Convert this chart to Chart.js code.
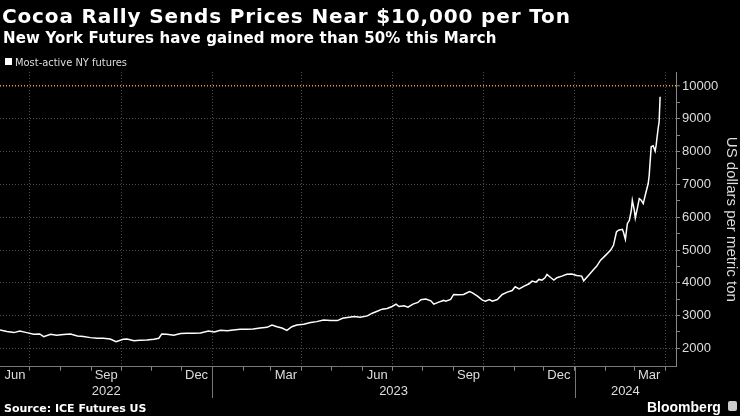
<!DOCTYPE html>
<html>
<head>
<meta charset="utf-8">
<script src="https://cdn.jsdelivr.net/npm/chart.js@4.4.1/dist/chart.umd.min.js"></script>
<style>
  body { margin: 0; background: #000; }
  #wrap { position: relative; width: 740px; height: 416px; background: #000; overflow: hidden; }
  #chart { position: absolute; left: 0; top: 0; }
  .txt { position: absolute; white-space: nowrap; line-height: 1; }
  #title { left: 2px; top: 4px; font: bold 20px "DejaVu Sans"; letter-spacing: 0.85px; color: #fff; }
  #subtitle { left: 3px; top: 29px; font: bold 15px "DejaVu Sans"; letter-spacing: 0.15px; color: #fff; }
  #legend { left: 15px; top: 56px; font: 11px "DejaVu Sans Condensed", "DejaVu Sans"; color: #ddd; }
  #legendBox { position: absolute; left: 5px; top: 58px; width: 7px; height: 7px; background: #fff; }
  #source { left: 4px; top: 402px; font: bold 11px "DejaVu Sans"; color: #fff; }
  #brand { left: 647px; top: 399px; font: bold 14px "Liberation Sans"; color: #fff; }
  #logo { position: absolute; left: 728px; top: 401px; width: 9px; height: 10px; background: #ccc; border-radius: 2px; }
</style>
</head>
<body>
<div id="wrap">
  <canvas id="chart" width="740" height="416"></canvas>
  <div id="title" class="txt">Cocoa Rally Sends Prices Near $10,000 per Ton</div>
  <div id="subtitle" class="txt">New York Futures have gained more than 50% this March</div>
  <div id="legendBox"></div>
  <div id="legend" class="txt">Most-active NY futures</div>
  <div id="source" class="txt">Source: ICE Futures US</div>
  <div id="brand" class="txt">Bloomberg</div>
  <div id="logo"></div>
</div>
<script>
// most-active NY cocoa futures, USD per metric ton
const dates = [
  '2022-06-01','2022-06-08','2022-06-15','2022-06-21','2022-06-28','2022-07-05','2022-07-11','2022-07-15',
  '2022-07-22','2022-07-28','2022-08-04','2022-08-11','2022-08-18','2022-08-24','2022-08-31','2022-09-07',
  '2022-09-13','2022-09-20','2022-09-26','2022-10-03','2022-10-07','2022-10-14','2022-10-20','2022-10-27',
  '2022-11-03','2022-11-08','2022-11-11','2022-11-16','2022-11-23','2022-11-30','2022-12-06','2022-12-13',
  '2022-12-20','2022-12-28','2023-01-03','2023-01-09','2023-01-16','2023-01-22','2023-01-29','2023-02-05',
  '2023-02-11','2023-02-18','2023-02-25','2023-03-02','2023-03-07','2023-03-12','2023-03-17','2023-03-22',
  '2023-03-27','2023-04-03','2023-04-10','2023-04-16','2023-04-23','2023-04-30','2023-05-07','2023-05-12',
  '2023-05-17','2023-05-24','2023-05-30','2023-06-06','2023-06-11','2023-06-16','2023-06-21','2023-06-26',
  '2023-07-01','2023-07-05','2023-07-08','2023-07-13','2023-07-17','2023-07-22','2023-07-27','2023-07-30',
  '2023-08-04','2023-08-09','2023-08-12','2023-08-17','2023-08-22','2023-08-24','2023-08-29','2023-09-01',
  '2023-09-06','2023-09-11','2023-09-17','2023-09-20','2023-09-25','2023-09-30','2023-10-03','2023-10-07',
  '2023-10-10','2023-10-15','2023-10-20','2023-10-25','2023-10-30','2023-11-02','2023-11-06','2023-11-11',
  '2023-11-16','2023-11-19','2023-11-23','2023-11-26','2023-11-29','2023-12-02','2023-12-04','2023-12-08',
  '2023-12-11','2023-12-14','2023-12-19','2023-12-24','2023-12-29','2024-01-03','2024-01-08','2024-01-10',
  '2024-01-15','2024-01-20','2024-01-23','2024-01-27','2024-02-01','2024-02-06','2024-02-09','2024-02-12',
  '2024-02-14','2024-02-18','2024-02-19','2024-02-21','2024-02-23','2024-02-25','2024-02-27','2024-02-28',
  '2024-03-01','2024-03-02','2024-03-04','2024-03-06','2024-03-08','2024-03-10','2024-03-12','2024-03-15',
  '2024-03-16','2024-03-18','2024-03-20','2024-03-22','2024-03-23','2024-03-25','2024-03-26','2024-03-27'
];
const prices = [
  2562, 2511, 2480, 2531, 2480, 2429, 2440, 2358,
  2429, 2400, 2419, 2440, 2378, 2358, 2327, 2307,
  2307, 2286, 2204, 2276, 2286, 2235, 2245, 2255,
  2276, 2307, 2440, 2429, 2400, 2450, 2460, 2460,
  2470, 2531, 2500, 2552, 2538, 2559, 2579, 2579,
  2590, 2620, 2641, 2713, 2661, 2620, 2549, 2661,
  2713, 2733, 2785, 2815, 2867, 2846, 2846, 2918,
  2938, 2969, 2949, 2990, 3072, 3133, 3195, 3215,
  3277, 3349, 3277, 3297, 3256, 3349, 3400, 3482,
  3503, 3451, 3349, 3410, 3462, 3439, 3490, 3643,
  3633, 3643, 3735, 3694, 3592, 3470, 3439, 3490,
  3439, 3490, 3643, 3714, 3765, 3878, 3816, 3898,
  3969, 4051, 4020, 4102, 4082, 4152, 4255, 4153,
  4085, 4153, 4204, 4260, 4270, 4224, 4204, 4060,
  4230, 4406, 4500, 4690, 4837, 4990, 5143, 5550,
  5601, 5631, 5550, 5326, 5804, 5906, 6212, 6517,
  6212, 5978, 6263, 6568, 6517, 6415, 6670, 7027,
  7281, 8147, 8177, 8014, 8197, 8707, 8910, 9674
];

// axis labels
const monthLabels = ['Jun', 'Sep', 'Dec', 'Mar', 'Jun', 'Sep', 'Dec', 'Mar'];
const monthLabelDates = ['2022-06-16', '2022-09-16', '2022-12-16', '2023-03-16',
                         '2023-06-16', '2023-09-16', '2023-12-16', '2024-03-16'];
const yearLabels = ['2022', '2023', '2024'];
const yearStarts = ['2023-01-01', '2024-01-01'];
const yTickValues = [2000, 2500, 3000, 3500, 4000, 4500, 5000, 5500, 6000, 6500, 7000, 7500, 8000, 8500, 9000, 9500, 10000];
const xStart = '2022-06-01';
const xEnd = '2024-04-12';

function dayNum(s) {
  const p = s.split('-');
  return Date.UTC(+p[0], +p[1] - 1, +p[2]) / 86400000;
}

const xMin = dayNum(xStart), xMax = dayNum(xEnd);

// a tick mark on every month start, dotted grid line on quarter starts
const monthStarts = [], quarterStarts = new Set();
for (let y = 2022, m = 6; y < 2024 || m <= 3; m++) {
  if (m > 11) { m = 0; y++; }
  const d = Date.UTC(y, m, 1) / 86400000;
  monthStarts.push(d);
  if (m % 3 === 0) quarterStarts.add(d);
}
const labelDays = monthLabelDates.map(dayNum);

const bounds = [xMin].concat(yearStarts.map(dayNum), [xMax]);
const yearCenters = yearLabels.map((_, i) => (bounds[i] + bounds[i + 1]) / 2);

const tickFont = { family: 'Liberation Sans', size: 13, lineHeight: 1 };

const yearLines = {
  id: 'yearLines',
  afterDraw(chart) {
    const { ctx, chartArea, scales } = chart;
    ctx.save();
    ctx.strokeStyle = '#777';
    ctx.lineWidth = 1;
    yearStarts.forEach(d => {
      const px = Math.round(scales.x.getPixelForValue(dayNum(d))) + 0.5;
      ctx.beginPath();
      ctx.moveTo(px, chartArea.bottom);
      ctx.lineTo(px, 398);
      ctx.stroke();
    });
    ctx.restore();
  }
};

new Chart(document.getElementById('chart'), {
  type: 'line',
  data: {
    datasets: [{
      label: 'Most-active NY futures',
      data: dates.map((d, i) => ({ x: dayNum(d), y: prices[i] })),
      borderColor: '#fff',
      borderWidth: 1.5,
      pointRadius: 0,
      tension: 0
    }]
  },
  options: {
    responsive: false,
    animation: false,
    layout: { padding: { left: 0, right: 0, top: 72, bottom: 16.3 } },
    plugins: { legend: { display: false }, tooltip: { enabled: false } },
    scales: {
      x: {
        type: 'linear',
        position: 'bottom',
        weight: 0,
        min: xMin,
        max: xMax,
        afterBuildTicks: scale => {
          scale.ticks = monthStarts.concat(labelDays).sort((a, b) => a - b).map(v => ({ value: v }));
        },
        afterFit: scale => {
          scale.height = 17;
          scale.paddingLeft = 0;
          scale.paddingRight = 0;
        },
        ticks: {
          autoSkip: false,
          maxRotation: 0,
          minRotation: 0,
          padding: -1.5,
          color: '#ddd',
          font: tickFont,
          callback: v => {
            const i = labelDays.indexOf(v);
            return i >= 0 ? monthLabels[i] : '';
          }
        },
        grid: {
          color: c => (c.tick && quarterStarts.has(c.tick.value)) ? '#4a4a4a' : 'rgba(0,0,0,0)',
          tickColor: c => (c.tick && labelDays.indexOf(c.tick.value) < 0) ? '#888' : 'rgba(0,0,0,0)',
          tickLength: 4,
          lineWidth: 1
        },
        border: { display: true, color: '#777', dash: [1, 2] }
      },
      yr: {
        type: 'linear',
        position: 'bottom',
        weight: 1,
        min: xMin,
        max: xMax,
        afterBuildTicks: scale => {
          scale.ticks = yearCenters.map(v => ({ value: v }));
        },
        afterFit: scale => {
          scale.height = 16;
          scale.paddingLeft = 0;
          scale.paddingRight = 0;
        },
        ticks: {
          autoSkip: false,
          maxRotation: 0,
          padding: 1,
          color: '#ddd',
          font: tickFont,
          callback: (v, i) => yearLabels[i]
        },
        grid: { display: false, drawTicks: false },
        border: { display: false }
      },
      y: {
        position: 'right',
        min: 1440,
        max: 10430,
        afterBuildTicks: scale => {
          scale.ticks = yTickValues.map(v => ({ value: v }));
        },
        afterFit: scale => {
          scale.width = 64;
          scale.paddingTop = 0;
          scale.paddingBottom = 0;
        },
        ticks: {
          padding: 2,
          color: '#ddd',
          font: tickFont,
          callback: v => (v % 1000 === 0 ? String(v) : '')
        },
        grid: {
          color: c => {
            const v = c.tick ? c.tick.value : 0;
            if (v === 10000) return '#f0a030';
            return v % 1000 === 0 ? '#4a4a4a' : 'rgba(0,0,0,0)';
          },
          lineWidth: c => (c.tick && c.tick.value === 10000) ? 1.6 : 1,
          tickColor: '#888',
          tickWidth: 1,
          tickLength: 4
        },
        border: { display: true, color: '#888', dash: [1, 2] },
        title: {
          display: true,
          text: 'US dollars per metric ton',
          color: '#ddd',
          font: { family: 'Liberation Sans', size: 15 },
          padding: 0
        }
      }
    }
  },
  plugins: [yearLines]
});
</script>
</body>
</html>
